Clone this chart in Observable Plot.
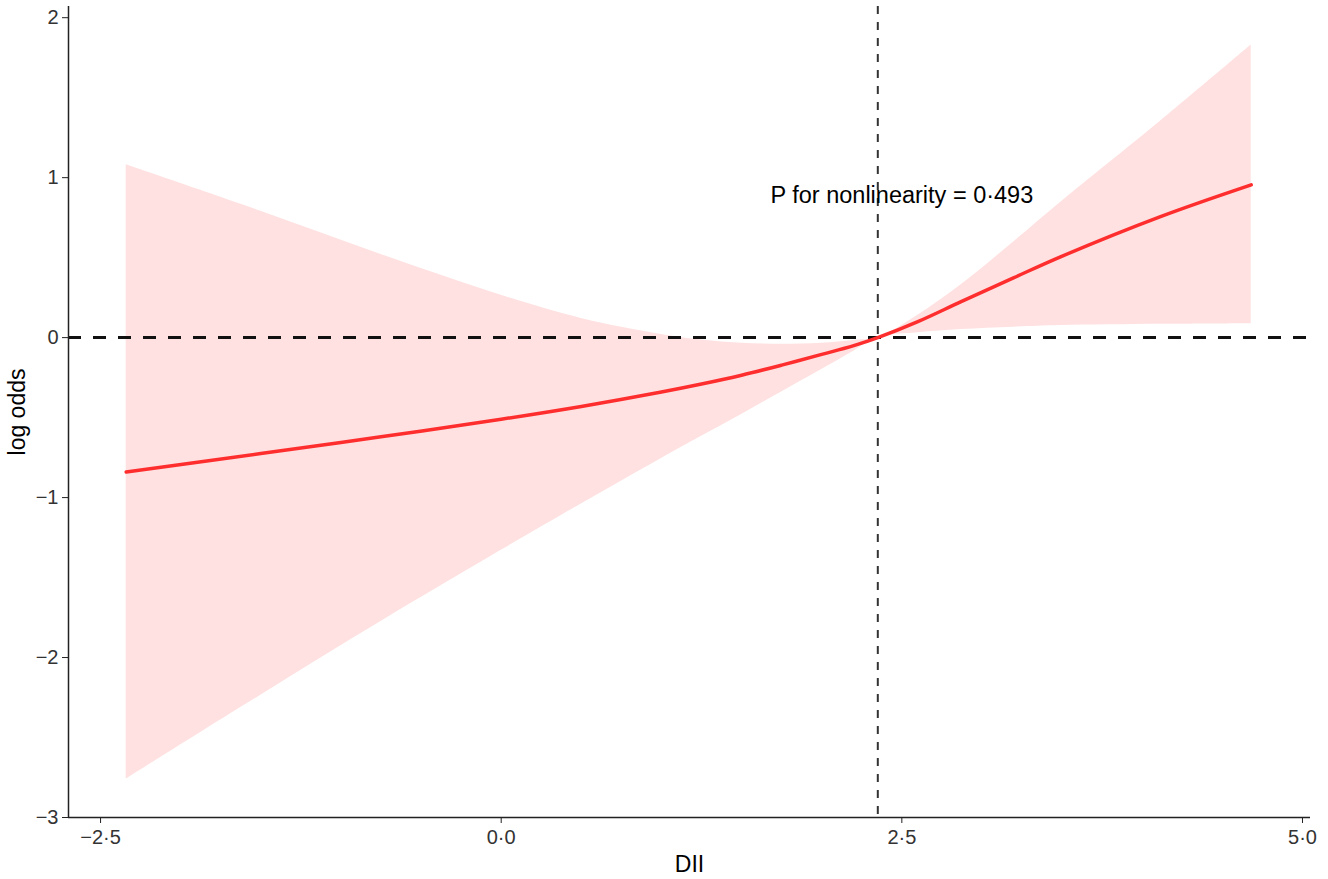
<!DOCTYPE html>
<html>
<head>
<meta charset="utf-8">
<script src="https://cdn.jsdelivr.net/npm/d3@7"></script>
<script src="https://cdn.jsdelivr.net/npm/@observablehq/plot@0.6"></script>
<style>
  html, body { margin: 0; padding: 0; background: #fff; }
  #chart svg { display: block; }
  g[aria-label="x-axis label"] text, g[aria-label="y-axis label"] text { font-size: 23px; fill: #000; }
</style>
</head>
<body>
<div id="chart"></div>
<script>
// Data (DII vs log odds, restricted cubic spline)
const dii     = [-2.34, -1.5, -0.75, 0, 0.5, 1.0, 1.25, 1.5, 1.75, 2.0, 2.2, 2.35, 2.6, 2.87, 3.2, 3.49, 4.11, 4.68];
const logOdds = [-0.84, -0.725, -0.62, -0.51, -0.43, -0.34, -0.29, -0.235, -0.172, -0.105, -0.05, 0, 0.1, 0.225, 0.375, 0.505, 0.755, 0.955];
const upperCI = [1.08, 0.79, 0.52, 0.265, 0.12, 0.02, -0.015, -0.035, -0.042, -0.035, -0.018, 0, 0.14, 0.33, 0.6, 0.845, 1.35, 1.83];
const lowerCI = [-2.76, -2.235, -1.775, -1.33, -1.04, -0.755, -0.617, -0.48, -0.34, -0.2, -0.085, 0, 0.03, 0.05, 0.065, 0.075, 0.083, 0.087];

const refDII = 2.35;           // reference value (vertical dashed line)
const nullLogOdds = 0;         // horizontal dashed line
const xTicks = [-2.5, 0, 2.5, 5];
const xTickLabels = ["\u22122\u00b75", "0\u00b70", "2\u00b75", "5\u00b70"];
const yTicks = [-3, -2, -1, 0, 1, 2];
const yTickLabels = ["\u22123", "\u22122", "\u22121", "0", "1", "2"];
const xDomain = [-2.70, 5.05];
const yDomain = [-3, 2.07];
const annotation = "P for nonlinearity = 0\u00b7493";
const annotationPos = {x: 2.5, y: 0.89};

const data = dii.map((x, i) => ({x, y: logOdds[i], lo: lowerCI[i], hi: upperCI[i]}));

const chart = Plot.plot({
  width: 1328,
  height: 879,
  marginLeft: 68,
  marginRight: 18,
  marginTop: 6,
  marginBottom: 62,
  style: {fontFamily: "'Liberation Sans', Arial, sans-serif", background: "#fff", color: "#333"},
  x: {domain: xDomain},
  y: {domain: yDomain},
  marks: [
    Plot.areaY(data, {x: "x", y1: "lo", y2: "hi", fill: "#FFE1E1", curve: "catmull-rom"}),
    Plot.ruleY([nullLogOdds], {stroke: "#111", strokeWidth: 3, strokeDasharray: "13,12"}),
    Plot.ruleX([refDII], {stroke: "#333", strokeWidth: 2, strokeDasharray: "8,8"}),
    Plot.line(data, {x: "x", y: "y", stroke: "#FF2E2E", strokeWidth: 3.5, curve: "catmull-rom"}),
    Plot.text([annotation], {x: annotationPos.x, y: annotationPos.y, text: d => d, fontSize: 23.5, fill: "#000", textAnchor: "middle"}),
    Plot.ruleX([xDomain[0]], {stroke: "#222", strokeWidth: 1.5}),
    Plot.ruleY([yDomain[0]], {stroke: "#222", strokeWidth: 1.5}),
    Plot.axisX({
      ticks: xTicks,
      tickFormat: d => xTickLabels[xTicks.indexOf(d)],
      tickSize: 6, tickPadding: 6, fontSize: 20, stroke: "#222",
      label: "DII", labelAnchor: "center", labelArrow: "none", labelOffset: 54
    }),
    Plot.axisY({
      ticks: yTicks,
      tickFormat: d => yTickLabels[yTicks.indexOf(d)],
      tickSize: 6, tickPadding: 4, fontSize: 20, stroke: "#222",
      label: "log odds", labelAnchor: "center", labelArrow: "none", labelOffset: 60
    })
  ]
});
document.getElementById("chart").appendChild(chart);
</script>
</body>
</html>
